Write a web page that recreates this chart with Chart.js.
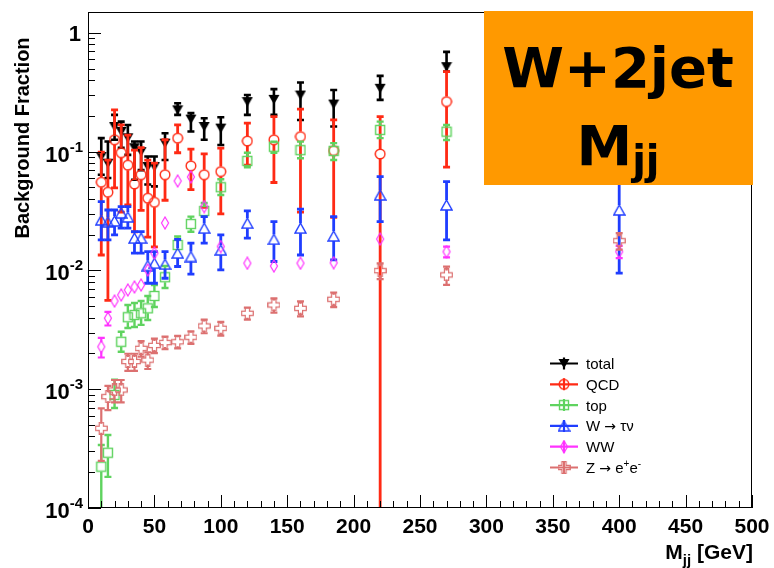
<!DOCTYPE html>
<html>
<head>
<meta charset="utf-8">
<script src="https://cdn.jsdelivr.net/npm/chart.js@4.4.1/dist/chart.umd.min.js"></script>
<style>
    html, body { margin: 0; padding: 0; background: #fff; }
    canvas { display: block; }
</style>
</head>
<body>
<canvas id="chart" width="774" height="568"></canvas>
<script>
// bin centres, GeV
const mjj = [10, 15, 20, 25, 30, 35, 40, 45, 50, 58, 67.5, 77.5, 87.5, 100, 120, 140, 160, 185, 220, 270, 400];

// total (bar ends read as values)
const totalVal = [0.091, 0.080, 0.163, 0.148, 0.131, 0.108, 0.100, 0.075, 0.075, 0.118, 0.225, 0.188, 0.163, 0.158, 0.264, 0.276, 0.300, 0.252, 0.342, 0.520, 0.40];
const totalHi = [0.130, 0.122, 0.204, 0.179, 0.168, 0.122, 0.122, 0.091, 0.091, 0.143, 0.256, 0.211, 0.191, 0.195, 0.300, 0.336, 0.382, 0.331, 0.435, 0.692, 0.55];
const totalLo = [0.064, 0.060, 0.126, 0.108, 0.094, 0.058, 0.070, 0.053, 0.051, 0.085, 0.204, 0.148, 0.126, 0.114, 0.204, 0.204, 0.185, 0.163, 0.273, 0.472, 0.30];

// QCD
const qcdVal = [0.0553, 0.0456, 0.126, 0.098, 0.077, 0.0535, 0.064, 0.0406, 0.0375, 0.064, 0.130, 0.076, 0.064, 0.068, 0.123, 0.126, 0.134, 0.102, 0.0957, 0.264, 0.25];
const qcdHi = [0.099, 0.085, 0.225, 0.168, 0.138, 0.103, 0.108, 0.085, 0.080, 0.126, 0.168, 0.105, 0.096, 0.107, 0.174, 0.197, 0.228, 0.185, 0.197, 0.472, 0.40];
const qcdLo = [0.0135, 0.0056, 0.0495, 0.031, 0.0356, 0.0211, 0.032, 0.0191, 0.0158, 0.039, 0.098, 0.048, 0.034, 0.030, 0.077, 0.055, 0.031, 0.028, 0.00001, 0.074, 0.10];

// top
const topVal = [0.000223, 0.000292, 0.000895, 0.00251, 0.00404, 0.00422, 0.00436, 0.0048, 0.0061, 0.00877, 0.0164, 0.0246, 0.0317, 0.0502, 0.0836, 0.110, 0.103, 0.1015, 0.1525, 0.1475, 0.10];
const topHi = [0.000339, 0.000412, 0.0012, 0.00305, 0.00512, 0.00532, 0.00553, 0.0061, 0.00755, 0.0109, 0.0193, 0.0284, 0.037, 0.0586, 0.098, 0.1215, 0.1215, 0.118, 0.179, 0.168, 0.12];
const topLo = [0.00001, 0.000183, 0.000695, 0.00207, 0.00328, 0.00334, 0.00348, 0.00383, 0.00493, 0.00712, 0.0149, 0.0212, 0.0284, 0.0432, 0.074, 0.098, 0.088, 0.085, 0.130, 0.1256, 0.08];

// W -> tau nu
const wtnVal = [0.0266, 0.0256, 0.0261, 0.0305, 0.0282, 0.0187, 0.0187, 0.0110, 0.0115, 0.0113, 0.0140, 0.0131, 0.0227, 0.0149, 0.0250, 0.0183, 0.0227, 0.0195, 0.0432, 0.0356, 0.0323];
const wtnHi = [0.038, 0.0323, 0.0323, 0.0345, 0.0345, 0.0212, 0.0212, 0.0144, 0.0144, 0.0144, 0.0183, 0.0170, 0.0284, 0.0199, 0.0317, 0.0258, 0.0328, 0.0284, 0.0617, 0.0560, 0.060];
const wtnLo = [0.0181, 0.0181, 0.0199, 0.0227, 0.0227, 0.0140, 0.0140, 0.0078, 0.0078, 0.0086, 0.0108, 0.0093, 0.0170, 0.0101, 0.0187, 0.0119, 0.0135, 0.0123, 0.0258, 0.0181, 0.0095];

// WW and Z -> ee, symmetric errors
const wwVal = [0.00228, 0.00396, 0.00553, 0.00622, 0.00685, 0.00726, 0.00755, 0.0101, 0.0140, 0.0251, 0.0567, 0.0613, 0.0345, 0.0159, 0.0115, 0.0109, 0.0115, 0.0116, 0.0184, 0.0144, 0.0144];
const wwErr = [0.00043, 0.00052, 0.0004, 0.0004, 0.00045, 0.00045, 0.0005, 0.0006, 0.0008, 0.0013, 0.003, 0.003, 0.002, 0.001, 0.0008, 0.0008, 0.0008, 0.0008, 0.0015, 0.0015, 0.0017];
const zeeVal = [0.000469, 0.000866, 0.000986, 0.000986, 0.00171, 0.00171, 0.00221, 0.00176, 0.00234, 0.00247, 0.00251, 0.00274, 0.00341, 0.00326, 0.00436, 0.00512, 0.0048, 0.00572, 0.00996, 0.00917, 0.0178];
const zeeErr = [0.00022, 0.0002, 0.00021, 0.00021, 0.00028, 0.00028, 0.00033, 0.00028, 0.00033, 0.0003, 0.0003, 0.00033, 0.00045, 0.00043, 0.0005, 0.0007, 0.0007, 0.0008, 0.0015, 0.0016, 0.0028];

const xTicks = [0, 50, 100, 150, 200, 250, 300, 350, 400, 450, 500];
const yTicks = [1, 0.1, 0.01, 0.001, 0.0001];
const yTickExp = ['', '-1', '-2', '-3', '-4'];

const FONT = '"Liberation Sans", Arial, sans-serif';
const ORANGE = '#ff9900';

// ROOT-like marker shapes as small canvases
function marker(w, h, color, draw) {
    const c = document.createElement('canvas');
    c.width = w; c.height = h;
    const g = c.getContext('2d');
    g.strokeStyle = color;
    g.fillStyle = color;
    g.lineWidth = 1.4;
    draw(g);
    return c;
}
function poly(g, pts) {
    g.beginPath();
    pts.forEach((p, i) => i ? g.lineTo(p[0], p[1]) : g.moveTo(p[0], p[1]));
    g.closePath();
}

const COLORS = {
    total: '#000000',
    qcd: '#ff2a14',
    top: '#5fd35f',
    wtn: '#1f3dff',
    ww: '#ff33ff',
    zee: '#dc7070',
};

const mkTotal = marker(12, 11, COLORS.total, g => { poly(g, [[0.5, 1], [11.5, 1], [6, 10.5]]); g.fill(); });
const mkQcd = marker(12, 12, COLORS.qcd, g => { g.beginPath(); g.arc(6, 6, 4.8, 0, Math.PI * 2); g.stroke(); });
const mkTop = marker(12, 12, COLORS.top, g => { g.strokeRect(1.5, 1.5, 9, 9); });
const mkWtn = marker(13, 12, COLORS.wtn, g => { poly(g, [[6.5, 1], [12, 11], [1, 11]]); g.stroke(); });
const mkWw = marker(10, 14, COLORS.ww, g => { g.lineWidth = 1.2; poly(g, [[5, 1], [8.5, 7], [5, 13], [1.5, 7]]); g.stroke(); });
const mkZee = marker(13, 13, COLORS.zee, g => {
    const m = 6.5, a = 5.8, w = 2.1;
    g.lineWidth = 1.2;
    poly(g, [[m - w, m - a], [m + w, m - a], [m + w, m - w], [m + a, m - w], [m + a, m + w], [m + w, m + w],
        [m + w, m + a], [m - w, m + a], [m - w, m + w], [m - a, m + w], [m - a, m - w], [m - w, m - w]]);
    g.stroke();
});

function points(vals) {
    return mjj.map((x, i) => ({ x, y: vals[i] }));
}

function series(label, vals, lo, hi, color, img, order, lw, gap) {
    return {
        label,
        data: points(vals),
        errLo: lo,
        errHi: hi,
        borderColor: color,
        backgroundColor: color,
        pointStyle: img,
        pointRadius: 6,
        showLine: false,
        order,
        barWidth: lw,
        gap,
    };
}

const datasets = [
    series('total', totalVal, totalLo, totalHi, COLORS.total, mkTotal, 6, 2.6, 0),
    series('QCD', qcdVal, qcdLo, qcdHi, COLORS.qcd, mkQcd, 5, 2.8, 5),
    series('top', topVal, topLo, topHi, COLORS.top, mkTop, 4, 2.4, 5),
    series('W \u2192 \u03c4\u03bd', wtnVal, wtnLo, wtnHi, COLORS.wtn, mkWtn, 3, 2.8, 5),
    series('WW', wwVal, wwVal.map((v, i) => v - wwErr[i]), wwVal.map((v, i) => v + wwErr[i]), COLORS.ww, mkWw, 2, 2.2, 4.5),
    series('Z \u2192 ee', zeeVal, zeeVal.map((v, i) => v - zeeErr[i]), zeeVal.map((v, i) => v + zeeErr[i]), COLORS.zee, mkZee, 1, 2.2, 4.5),
];

const legendMarkers = [mkTotal, mkQcd, mkTop, mkWtn, mkWw, mkZee];
// text pieces: [text, kind] with kind n = normal, s = symbol, u = superscript
const legendLabels = [
    [['total', 'n']],
    [['QCD', 'n']],
    [['top', 'n']],
    [['W ', 'n'], ['\u2192', 's'], [' \u03c4\u03bd', 'n']],
    [['WW', 'n']],
    [['Z ', 'n'], ['\u2192', 's'], [' e', 'n'], ['+', 'u'], ['e', 'n'], ['-', 'u']],
];

const errorBars = {
    id: 'errorBars',
    beforeDatasetDraw(chart, args) {
        const ds = chart.data.datasets[args.index];
        const { ctx, chartArea: a } = chart;
        const y = chart.scales.y;
        ctx.save();
        ctx.beginPath();
        ctx.rect(a.left, a.top, a.right - a.left, a.bottom - a.top);
        ctx.clip();
        ctx.strokeStyle = ds.borderColor;
        ctx.lineWidth = ds.barWidth;
        args.meta.data.forEach((p, i) => {
            const top = y.getPixelForValue(ds.errHi[i]);
            const bot = Math.min(y.getPixelForValue(Math.max(ds.errLo[i], 1e-6)), a.bottom + 20);
            const g = ds.gap;
            ctx.beginPath();
            if (top < p.y - g) {
                ctx.moveTo(p.x, top); ctx.lineTo(p.x, p.y - g);
                ctx.moveTo(p.x - 3.5, top); ctx.lineTo(p.x + 3.5, top);
            }
            if (bot > p.y + g) {
                ctx.moveTo(p.x, p.y + g); ctx.lineTo(p.x, bot);
                ctx.moveTo(p.x - 3.5, bot); ctx.lineTo(p.x + 3.5, bot);
            }
            ctx.stroke();
        });
        ctx.restore();
    },
};

const decorations = {
    id: 'decorations',
    beforeDraw(chart) {
        const ctx = chart.ctx;
        ctx.save();
        ctx.fillStyle = '#fff';
        ctx.fillRect(0, 0, chart.width, chart.height);
        ctx.restore();
    },
    afterDraw(chart) {
        const { ctx, chartArea: a } = chart;
        const xs = chart.scales.x, ys = chart.scales.y;
        ctx.save();
        ctx.strokeStyle = '#000';
        ctx.fillStyle = '#000';
        ctx.lineWidth = 1;

        // frame
        ctx.strokeRect(a.left + 0.5, a.top + 0.5, a.right - a.left - 1, a.bottom - a.top - 1);

        // x ticks, pointing inwards
        ctx.beginPath();
        for (let v = 0; v <= 500; v += 10) {
            const px = Math.round(xs.getPixelForValue(v)) + 0.5;
            const len = v % 50 === 0 ? 13 : 7;
            ctx.moveTo(px, a.bottom);
            ctx.lineTo(px, a.bottom - len);
        }
        // y ticks, decades and 2..9
        for (let d = -4; d <= 0; d++) {
            for (let m = 1; m <= 9; m++) {
                const v = m * Math.pow(10, d);
                if (v > ys.max) break;
                const py = Math.round(ys.getPixelForValue(v)) + 0.5;
                ctx.moveTo(a.left, py);
                ctx.lineTo(a.left + (m === 1 ? 13 : 7), py);
            }
        }
        ctx.stroke();

        // x labels
        ctx.font = 'bold 21px ' + FONT;
        ctx.textAlign = 'center';
        ctx.textBaseline = 'alphabetic';
        xTicks.forEach(v => ctx.fillText(String(v), xs.getPixelForValue(v), 533));

        // y labels
        ctx.textAlign = 'right';
        yTicks.forEach((v, i) => {
            const py = ys.getPixelForValue(v);
            if (!yTickExp[i]) {
                ctx.font = 'bold 22px ' + FONT;
                ctx.fillText('1', 81, py + 8);
                return;
            }
            ctx.font = 'bold 15px ' + FONT;
            const ew = ctx.measureText(yTickExp[i]).width;
            ctx.fillText(yTickExp[i], 83, py);
            ctx.font = 'bold 22px ' + FONT;
            ctx.fillText('10', 83 - ew, py + 10);
        });

        // axis titles
        ctx.save();
        ctx.translate(29, 138);
        ctx.rotate(-Math.PI / 2);
        ctx.textAlign = 'center';
        ctx.font = 'bold 20px ' + FONT;
        ctx.fillText('Background Fraction', 0, 0);
        ctx.restore();

        ctx.textAlign = 'left';
        ctx.font = 'bold 21px ' + FONT;
        const wM = ctx.measureText('M').width;
        const wG = ctx.measureText(' [GeV]').width;
        ctx.font = 'bold 15px ' + FONT;
        const wJ = ctx.measureText('jj').width;
        let tx = 753 - wM - wJ - wG;
        ctx.font = 'bold 21px ' + FONT;
        ctx.fillText('M', tx, 559);
        ctx.font = 'bold 15px ' + FONT;
        ctx.fillText('jj', tx + wM, 565);
        ctx.font = 'bold 21px ' + FONT;
        ctx.fillText(' [GeV]', tx + wM + wJ, 559);

        // legend
        const fonts = { n: '15px ' + FONT, s: '14px "DejaVu Sans", sans-serif', u: '10px ' + FONT };
        chart.data.datasets.forEach((ds, i) => {
            const ly = 363.5 + i * 20.8;
            ctx.strokeStyle = ds.borderColor;
            ctx.lineWidth = 2.2;
            ctx.beginPath();
            ctx.moveTo(550, ly); ctx.lineTo(578, ly);
            ctx.moveTo(564, ly - 6); ctx.lineTo(564, ly + 6);
            ctx.stroke();
            const img = legendMarkers[i];
            ctx.drawImage(img, 564 - img.width / 2, ly - img.height / 2);
            ctx.fillStyle = '#000';
            let lx = 586;
            legendLabels[i].forEach(([t, kind]) => {
                ctx.font = fonts[kind];
                ctx.fillText(t, lx, kind === 'u' ? ly - 1 : ly + 5.5);
                lx += ctx.measureText(t).width;
            });
        });

        // title box
        ctx.fillStyle = ORANGE;
        ctx.fillRect(484, 11, 269, 174);
        ctx.fillStyle = '#000';
        ctx.textAlign = 'center';
        ctx.font = 'bold 56px "DejaVu Sans", sans-serif';
        ctx.fillText('W+2jet', 618, 87);
        ctx.textAlign = 'left';
        ctx.font = 'bold 56px "DejaVu Sans", sans-serif';
        const mW = ctx.measureText('M').width;
        ctx.font = 'bold 40px "DejaVu Sans", sans-serif';
        const jW = ctx.measureText('jj').width;
        const mx = 618 - (mW + jW) / 2;
        ctx.font = 'bold 56px "DejaVu Sans", sans-serif';
        ctx.fillText('M', mx, 165);
        ctx.font = 'bold 40px "DejaVu Sans", sans-serif';
        ctx.fillText('jj', mx + mW, 174);

        ctx.restore();
    },
};

new Chart(document.getElementById('chart'), {
    type: 'scatter',
    data: { datasets },
    options: {
        responsive: false,
        animation: false,
        devicePixelRatio: 1,
        events: [],
        layout: { padding: { left: 88, right: 22, top: 12, bottom: 60 } },
        plugins: {
            legend: { display: false },
            tooltip: { enabled: false },
        },
        scales: {
            x: { type: 'linear', min: 0, max: 500, display: false },
            y: { type: 'logarithmic', min: 1e-4, max: 1.5, display: false },
        },
    },
    plugins: [errorBars, decorations],
});
</script>
</body>
</html>
